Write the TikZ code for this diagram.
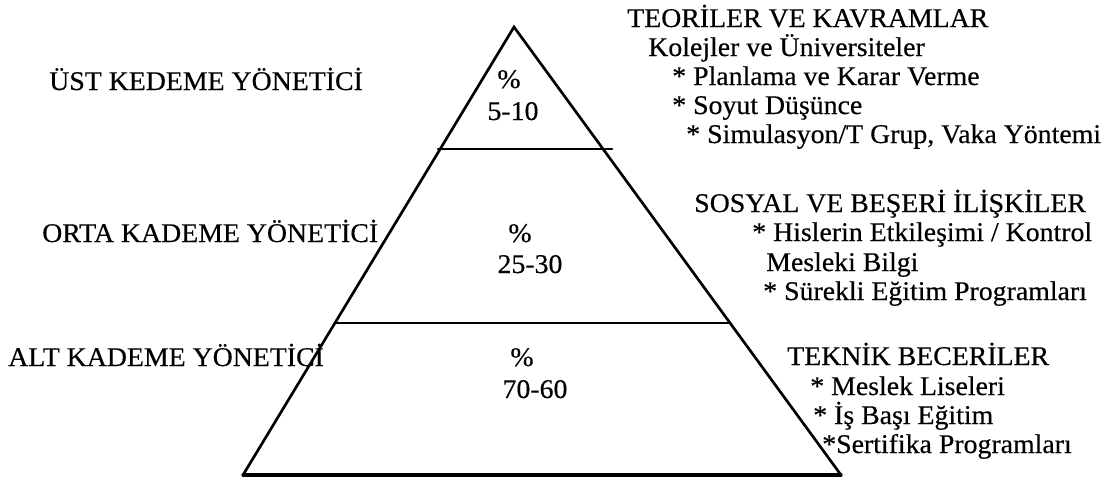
\documentclass[tikz,border=0pt]{standalone}
\usepackage{fontspec}
\setmainfont{Liberation Serif}[FakeBold=0.4,FakeStretch=1.03]
\begin{document}
\begin{tikzpicture}[x=0.75pt,y=-0.75pt,
  lbl/.style={anchor=base west,inner sep=0pt,font=\fontsize{20.25}{24}\selectfont},
  num/.style={anchor=base,inner sep=0pt,font=\fontsize{20.25}{24}\selectfont},
  edge/.style={line width=2pt,line cap=round,line join=miter}]
\useasboundingbox (0,0) rectangle (1103,479);
% pyramid
\coordinate (apex) at (514,27);
\coordinate (bl) at (243,475);
\coordinate (br) at (841,475);
\coordinate (s1l) at (438,149);
\coordinate (s1r) at (612,149);
\coordinate (s2l) at (335,323);
\coordinate (s2r) at (730,323);
\draw[edge] (bl) -- (apex) -- (br);
\draw[edge,line width=2.4pt] (bl) -- (br);
\draw[edge] (s1l) -- (s1r);
\draw[edge] (s2l) -- (s2r);
% left labels
\node[lbl] (ust) at (49,90) {ÜST KEDEME YÖNETİCİ};
\node[lbl] (orta) at (42,242) {ORTA KADEME YÖNETİCİ};
\node[lbl] (alt) at (8,366) {ALT KADEME YÖNETİCİ};
% percentages
\node[num] (p1) at (509,88) {\%};
\node[num] (v1) at (513,120) {5-10};
\node[num] (p2) at (520,242) {\%};
\node[num] (v2) at (530,273) {25-30};
\node[num] (p3) at (522,366) {\%};
\node[num] (v3) at (535,398) {70-60};
% right texts
\node[lbl] (r1) at (627,27) {TEORİLER VE KAVRAMLAR};
\node[lbl] (r2) at (648,56) {Kolejler ve Üniversiteler};
\node[lbl] (r3) at (672,85) {* Planlama ve Karar Verme};
\node[lbl] (r4) at (672,114) {* Soyut Düşünce};
\node[lbl] (r5) at (686,143) {* Simulasyon/T Grup, Vaka Yöntemi};
\node[lbl] (r6) at (694,212) {SOSYAL VE BEŞERİ İLİŞKİLER};
\node[lbl] (r7) at (752,241) {* Hislerin Etkileşimi / Kontrol};
\node[lbl] (r8) at (766,271) {Mesleki Bilgi};
\node[lbl] (r9) at (763,300) {* Sürekli Eğitim Programları};
\node[lbl] (r10) at (787,365) {TEKNİK BECERİLER};
\node[lbl] (r11) at (810,395) {* Meslek Liseleri};
\node[lbl] (r12) at (813,424) {* İş Başı Eğitim};
\node[lbl] (r13) at (822,453) {*Sertifika Programları};
\end{tikzpicture}
\end{document}
